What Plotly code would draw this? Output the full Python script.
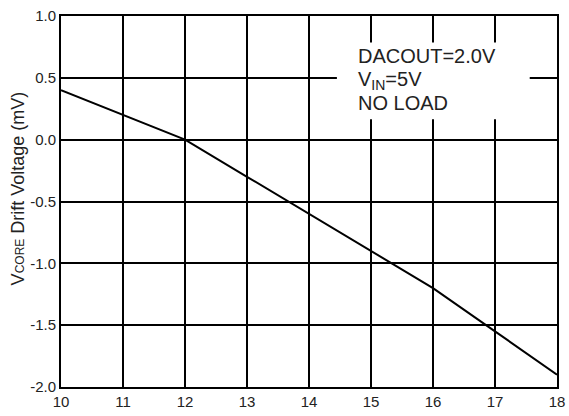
import plotly.graph_objects as go

x_vals = [10, 11, 12, 13, 14, 15, 16, 17, 18]
drift_mv = [0.4, 0.2, 0.0, -0.3, -0.6, -0.9, -1.2, -1.55, -1.9]
x_ticks = [10, 11, 12, 13, 14, 15, 16, 17, 18]
y_ticks = [-2.0, -1.5, -1.0, -0.5, 0.0, 0.5, 1.0]
y_tick_text = ["-2.0", "-1.5", "-1.0", "-0.5", "0.0", "0.5", "1.0"]
note_lines = ["DACOUT=2.0V", "V<sub>IN</sub>=5V", "NO LOAD"]
note_y = [0.673, 0.48, 0.30]
y_title = "V<span style='font-size:12px'>CORE</span> Drift Voltage (mV)"

fig = go.Figure()
fig.add_trace(go.Scatter(x=x_vals, y=drift_mv, mode="lines",
                         line=dict(color="black", width=2), showlegend=False))

font = "Liberation Sans, Arial, sans-serif"
fig.update_layout(
    width=569, height=416,
    margin=dict(l=61, r=12, t=16, b=29, autoexpand=False),
    plot_bgcolor="white", paper_bgcolor="white",
    font=dict(family=font, color="#222", size=15),
    xaxis=dict(range=[10, 18], tickvals=x_ticks, showgrid=True, gridcolor="black",
               gridwidth=2, showline=True, linecolor="black", linewidth=2, mirror=True,
               ticks="", zeroline=False, automargin=False,
               tickfont=dict(size=15, color="#222")),
    yaxis=dict(range=[-2, 1], tickvals=y_ticks, ticktext=y_tick_text, showgrid=True,
               gridcolor="black", gridwidth=2, showline=True, linecolor="black",
               linewidth=2, mirror=True, ticks="", zeroline=False, automargin=False,
               tickfont=dict(size=15, color="#222")),
)

fig.add_annotation(xref="paper", yref="paper", x=-0.0877, y=0.534, xanchor="center",
                   yanchor="middle", text=y_title, textangle=-90, showarrow=False,
                   font=dict(size=18, color="#222", family=font))

fig.add_shape(type="rect", xref="x", yref="y", x0=14.45, x1=17.56, y0=0.165, y1=0.786,
              fillcolor="white", line=dict(width=0), layer="above")
for txt, yy in zip(note_lines, note_y):
    fig.add_annotation(xref="x", yref="y", x=14.76, y=yy, xanchor="left", yanchor="middle",
                       text=txt, showarrow=False, align="left",
                       font=dict(size=20, color="#222", family=font))

fig.write_html("out.html", config={"displayModeBar": False},
               post_script="document.body.style.margin='0';document.body.style.overflow='hidden';")
